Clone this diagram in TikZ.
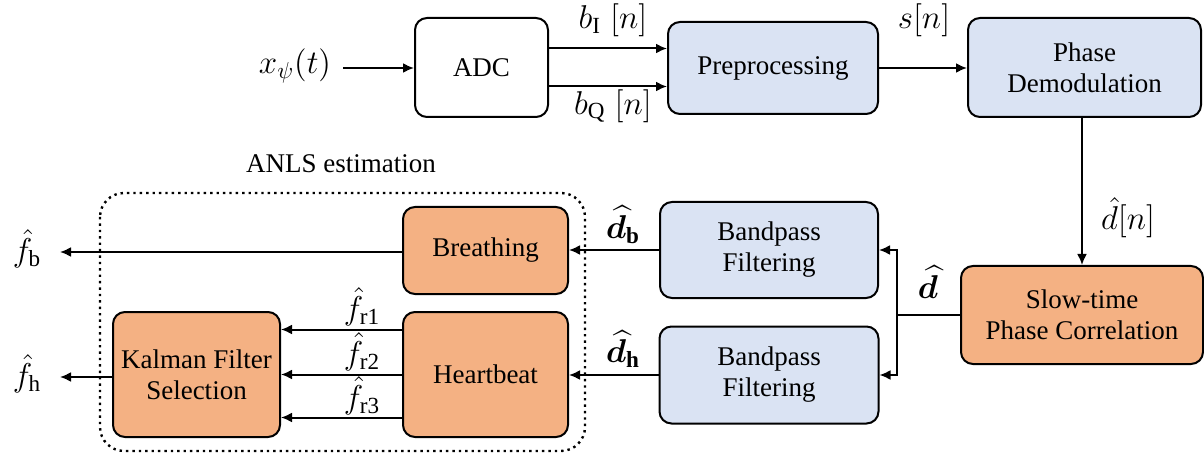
\RequirePackage{fix-cm}
\documentclass[tikz,border=0pt]{standalone}
\usepackage{amsmath,amssymb}
\usepackage{bm}
\usepackage{fontspec}
\setmainfont{Liberation Serif}
\usepackage{tikz}
\usetikzlibrary{arrows}
\usetikzlibrary{arrows.meta}
\usetikzlibrary{shapes}

\definecolor{procblue}{HTML}{DAE3F3}
\definecolor{estorange}{HTML}{F4B183}

\begin{document}
\begin{tikzpicture}[x=0.5pt, y=-0.5pt, >={Latex[length=5.5pt,width=5pt]}, line width=1pt,
        blk/.style = {draw, rounded corners=6pt, align=center, font=\fontsize{13.5}{15.5}\selectfont},
        procbox/.style = {blk, fill=procblue},
        estbox/.style = {blk, fill=estorange},
        lbl/.style = {font=\fontsize{16.5}{18}\selectfont}]
                    \useasboundingbox (0, 0) rectangle (1204, 454);

                    % top row
                    \node[blk, fill=white, minimum width=66.5pt, minimum height=49.5pt] (adc) at (481.5, 67.5) {ADC};
                    \node[procbox, minimum width=105pt, minimum height=46pt] (pre) at (773, 68) {Preprocessing};
                    \node[procbox, minimum width=116.5pt, minimum height=49.5pt] (dem) at (1084.5, 67.5) {Phase\\Demodulation};
                    \node[estbox, minimum width=121pt, minimum height=49pt] (slow) at (1082, 315) {Slow-time\\Phase Correlation};

                    % filters
                    \node[procbox, minimum width=109pt, minimum height=48pt] (bp1) at (769, 250) {Bandpass\\Filtering};
                    \node[procbox, minimum width=109.5pt, minimum height=48.5pt] (bp2) at (769, 375) {Bandpass\\Filtering};

                    % ANLS estimation
                    \draw[dotted, line width=1.2pt, rounded corners=12pt] (100, 193) rectangle (585, 451);
                    \node[font=\fontsize{13.5}{16}\selectfont] (anls) at (341, 164) {ANLS estimation};
                    \node[estbox, minimum width=82.5pt, minimum height=43.5pt] (br) at (485.5, 250.5) {Breathing};
                    \node[estbox, minimum width=82.5pt, minimum height=62.5pt] (hb) at (485.5, 374.5) {Heartbeat};
                    \node[estbox, minimum width=83.5pt, minimum height=62.5pt] (kal) at (196.5, 374.5) {Kalman Filter\\Selection};

                    % signal names
                    \node[lbl] (xin) at (295, 66) {$x_{\psi}(t)$};
                    \node[lbl] (bi) at (613, 20) {$b_{\mathrm{I}}\;[n]$};
                    \node[lbl] (bq) at (613, 106) {$b_{\mathrm{Q}}\;[n]$};
                    \node[lbl] (sn) at (924, 20) {$s[n]$};
                    \node[lbl] (dn) at (1128, 218) {$\hat{d}[n]$};
                    \node[lbl] (dv) at (928, 282) {$\widehat{\bm{d}}$};
                    \node[lbl] (db) at (623, 225) {$\widehat{\bm{d}}_{\mathbf{b}}$};
                    \node[lbl] (dh) at (623, 349) {$\widehat{\bm{d}}_{\mathbf{h}}$};
                    \node[lbl] (fb) at (27, 249) {$\hat{f}_{\mathrm{b}}$};
                    \node[lbl] (fh) at (27, 374) {$\hat{f}_{\mathrm{h}}$};
                    \node[lbl] (fr1) at (362, 307) {$\hat{f}_{\mathrm{r1}}$};
                    \node[lbl] (fr2) at (362, 352) {$\hat{f}_{\mathrm{r2}}$};
                    \node[lbl] (fr3) at (362, 396) {$\hat{f}_{\mathrm{r3}}$};

                    \coordinate (xend) at (343, 68);
                    \coordinate (jn) at (897, 315);
                    \coordinate (fbend) at (60, 252);
                    \coordinate (fhend) at (60, 377);

                    % connectors
                    \draw[->] (xend) -- (adc.west |- xend);
                    \draw[->] ([yshift=9.5pt]adc.east) -- ([yshift=9.5pt]adc.east -| pre.west);
                    \draw[->] ([yshift=-9.5pt]adc.east) -- ([yshift=-9.5pt]adc.east -| pre.west);
                    \draw[->] (pre.east) -- (pre.east -| dem.west);
                    \draw[->] (dem.south -| slow.north) -- (slow.north);
                    \draw (slow.west) -- (jn);
                    \draw[->] (jn) |- (bp1.east);
                    \draw[->] (jn) |- (bp2.east);
                    \draw[->] (bp1.west) -- (br.east |- bp1.west);
                    \draw[->] (bp2.west) -- (hb.east |- bp2.west);
                    \draw[->] (br.west |- fbend) -- (fbend);
                    \draw[->] ([yshift=22.5pt]hb.west) -- ([yshift=22.5pt]hb.west -| kal.east);
                    \draw[->] (hb.west) -- (hb.west -| kal.east);
                    \draw[->] ([yshift=-21.5pt]hb.west) -- ([yshift=-21.5pt]hb.west -| kal.east);
                    \draw[->] (kal.west |- fhend) -- (fhend);
\end{tikzpicture}
\end{document}
